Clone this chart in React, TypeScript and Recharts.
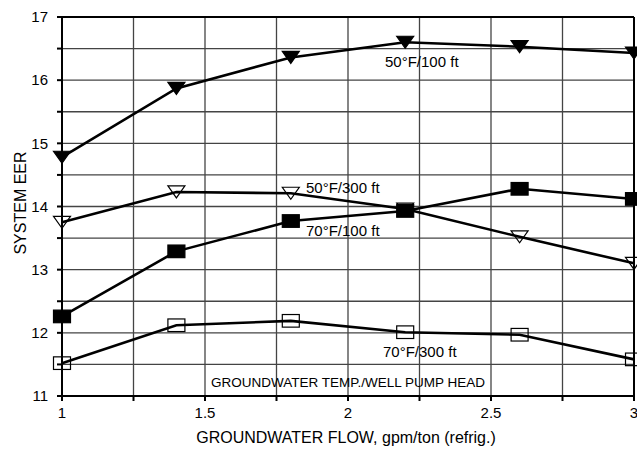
import React from 'react'
import { LineChart, Line, XAxis, YAxis, CartesianGrid, ReferenceLine } from 'recharts'

// groundwater flow, gpm/ton
const flow = [1, 1.4, 1.8, 2.2, 2.6, 3]
// system EER per groundwater temp / well pump head
const eer50f100 = [14.78, 15.87, 16.36, 16.6, 16.53, 16.43]
const eer50f300 = [13.75, 14.23, 14.21, 13.96, 13.52, 13.1]
const eer70f100 = [12.26, 13.29, 13.77, 13.93, 14.28, 14.12]
const eer70f300 = [11.52, 12.12, 12.19, 12.01, 11.97, 11.58]

const xTicks = [1, 1.25, 1.5, 1.75, 2, 2.25, 2.5, 2.75, 3]
const yTicks = [11, 11.5, 12, 12.5, 13, 13.5, 14, 14.5, 15, 15.5, 16, 16.5, 17]

const data = flow.map((f, i) => ({
  flow: f,
  a: eer50f100[i],
  b: eer50f300[i],
  c: eer70f100[i],
  d: eer70f300[i],
}))

const FONT = "'Liberation Sans', Arial, sans-serif"

const TriDown = ({ cx, cy, filled }: any) => {
  if (cx == null || cy == null) return null
  const w = 8.5, h = 6
  return (
    <path
      d={`M${cx - w},${cy - h} L${cx + w},${cy - h} L${cx},${cy + h} Z`}
      fill={filled ? '#000' : 'none'}
      stroke="#000"
      strokeWidth={1.2}
    />
  )
}

const Sq = ({ cx, cy, filled }: any) => {
  if (cx == null || cy == null) return null
  return (
    <rect x={cx - 8.5} y={cy - 6.3} width={17} height={12.6}
      fill={filled ? '#000' : 'none'} stroke="#000" strokeWidth={1.2} />
  )
}

export default function App() {
  const tickStyle = { fontSize: 15, fill: '#000', fontFamily: FONT }
  return (
    <div style={{ position: 'absolute', left: 0, top: 0, width: 637, height: 450, background: '#fff' }}>
      <LineChart width={637} height={450} data={data} margin={{ top: 17, right: 3, left: 0, bottom: 0 }}>
        <CartesianGrid stroke="#444" strokeWidth={1.3} />
        <XAxis dataKey="flow" type="number" domain={[1, 3]} ticks={xTicks}
          tickFormatter={(v: number) => (v * 2) % 1 === 0 ? String(v) : ''}
          tick={tickStyle} stroke="#000" strokeWidth={2} tickSize={5} tickMargin={6} height={54} interval={0} />
        <YAxis type="number" domain={[11, 17]} ticks={yTicks}
          tickFormatter={(v: number) => v % 1 === 0 ? String(v) : ''}
          tick={tickStyle} stroke="#000" strokeWidth={2} tickSize={5} tickMargin={9} width={62} interval={0} />
        <ReferenceLine y={17} stroke="#000" strokeWidth={2} />
        <ReferenceLine x={3} stroke="#000" strokeWidth={2} />
        <Line dataKey="a" stroke="#000" strokeWidth={2.6} isAnimationActive={false}
          dot={(p: any) => <TriDown key={p.index} {...p} filled />} />
        <Line dataKey="b" stroke="#000" strokeWidth={2.6} isAnimationActive={false}
          dot={(p: any) => <TriDown key={p.index} {...p} />} />
        <Line dataKey="c" stroke="#000" strokeWidth={2.6} isAnimationActive={false}
          dot={(p: any) => <Sq key={p.index} {...p} filled />} />
        <Line dataKey="d" stroke="#000" strokeWidth={2.6} isAnimationActive={false}
          dot={(p: any) => <Sq key={p.index} {...p} />} />
      </LineChart>
      <svg width={637} height={450} style={{ position: 'absolute', left: 0, top: 0, pointerEvents: 'none' }}
        fontFamily={FONT} fill="#000">
        <text x={385} y={61} fontSize={15} dominantBaseline="central">50°F/100 ft</text>
        <text x={306} y={187} fontSize={15} dominantBaseline="central">50°F/300 ft</text>
        <text x={306} y={230} fontSize={15} dominantBaseline="central">70°F/100 ft</text>
        <text x={383} y={351} fontSize={15} dominantBaseline="central">70°F/300 ft</text>
        <text x={348} y={382} fontSize={13.5} textAnchor="middle" dominantBaseline="central">
          GROUNDWATER TEMP./WELL PUMP HEAD
        </text>
        <text x={346} y={437} fontSize={16} textAnchor="middle" dominantBaseline="central">
          GROUNDWATER FLOW, gpm/ton (refrig.)
        </text>
        <text x={20} y={203} fontSize={16} textAnchor="middle" dominantBaseline="central"
          transform="rotate(-90 20 203)">SYSTEM EER</text>
      </svg>
    </div>
  )
}
